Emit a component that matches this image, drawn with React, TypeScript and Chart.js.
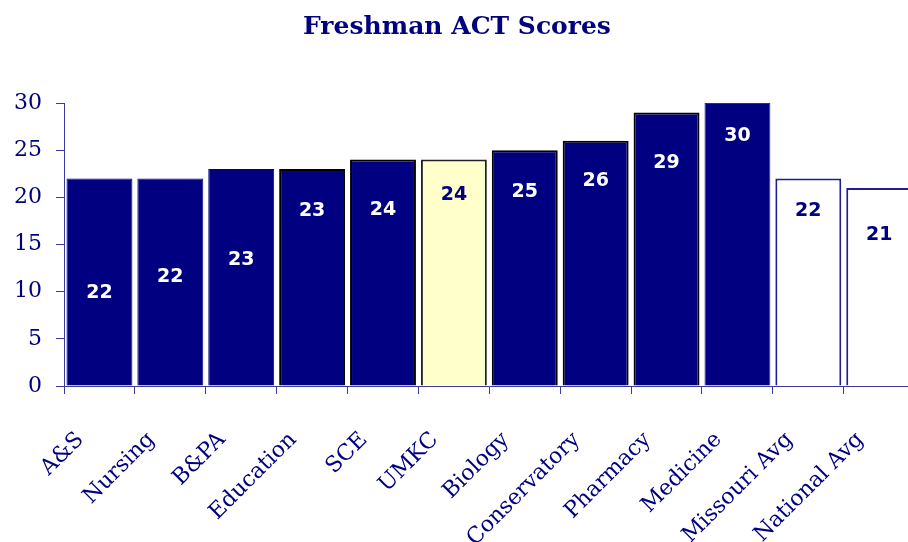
import React, { useEffect, useRef } from "react";
import { Chart, registerables } from "chart.js";

Chart.register(...registerables);

const categories = [
  "A&S", "Nursing", "B&PA", "Education", "SCE", "UMKC",
  "Biology", "Conservatory", "Pharmacy", "Medicine", "Missouri Avg", "National Avg",
];
const scores = [22, 22, 23, 23, 24, 24, 25, 26, 29, 30, 22, 21];
// vertical position (in score units) where each value label sits inside its bar
const labelPositions = [9.8, 11.5, 13.3, 18.5, 18.7, 20.2, 20.6, 21.7, 23.6, 26.5, 18.5, 16.0];
const yTicks = [0, 5, 10, 15, 20, 25, 30];

const NAVY = "#000080";
const fillColors = [NAVY, NAVY, NAVY, NAVY, NAVY, "#FFFFCC", NAVY, NAVY, NAVY, NAVY, "#FFFFFF", "#FFFFFF"];
const borderColors = [NAVY, NAVY, NAVY, "#000000", "#000000", "#222222", "#000000", "#000000", "#000000", "#2a2aa0", "#1c1c9c", "#1c1c9c"];
const borderWidths = [1, 1, 1, 2, 2, 2, 2, 2, 2, 1, 2, 2];
const labelColors = ["#FFFFFF", "#FFFFFF", "#FFFFFF", "#FFFFFF", "#FFFFFF", NAVY, "#FFFFFF", "#FFFFFF", "#FFFFFF", "#FFFFFF", NAVY, NAVY];

const valueLabelPlugin = {
  id: "valueLabels",
  afterDatasetsDraw(chart: any) {
    const meta = chart.getDatasetMeta(0);
    const yScale = chart.scales.y;
    const ctx = chart.ctx;
    ctx.save();
    ctx.font = 'bold 19px "DejaVu Sans", Verdana, sans-serif';
    ctx.textAlign = "center";
    ctx.textBaseline = "middle";
    meta.data.forEach((bar: any, i: number) => {
      ctx.fillStyle = labelColors[i];
      ctx.fillText(String(scores[i]), bar.x, yScale.getPixelForValue(labelPositions[i]));
    });
    ctx.restore();
  },
};

export default function App() {
  const canvasRef = useRef<HTMLCanvasElement | null>(null);

  useEffect(() => {
    if (!canvasRef.current) return;
    const chart = new Chart(canvasRef.current, {
      type: "bar",
      data: {
        labels: categories,
        datasets: [
          {
            data: scores,
            backgroundColor: fillColors,
            borderColor: borderColors,
            borderWidth: borderWidths,
            categoryPercentage: 1,
            barPercentage: 0.93,
          },
        ],
      },
      options: {
        animation: false,
        responsive: false,
        devicePixelRatio: 1,
        layout: { padding: { top: 0, right: 3, bottom: 0, left: 0 } },
        plugins: {
          legend: { display: false },
          tooltip: { enabled: false },
          title: {
            display: true,
            text: "Freshman ACT Scores",
            color: NAVY,
            font: { family: '"DejaVu Serif", serif', size: 25, weight: "bold" },
            padding: { top: 12, bottom: 61 },
          },
        },
        scales: {
          y: {
            min: 0,
            max: 30,
            afterBuildTicks: (scale: any) => {
              scale.ticks = yTicks.map((v) => ({ value: v }));
            },
            afterFit: (scale: any) => {
              scale.width = 78;
            },
            ticks: {
              color: NAVY,
              font: { family: '"DejaVu Serif", serif', size: 22 },
              padding: 14,
            },
            grid: { drawOnChartArea: false, drawTicks: true, tickLength: 8, color: "#3a3a9a" },
            border: { display: true, color: "#3a3a9a", width: 1 },
          },
          x: {
            afterFit: (scale: any) => {
              scale.height = 156;
            },
            ticks: {
              color: NAVY,
              font: { family: '"DejaVu Serif", serif', size: 22 },
              minRotation: 45,
              maxRotation: 45,
              autoSkip: false,
              labelOffset: -19,
              padding: 33,
            },
            grid: { drawOnChartArea: false, drawTicks: true, tickLength: 8, color: "#3a3a9a", offset: true },
            border: { display: true, color: "#3a3a9a", width: 1 },
          },
        },
      },
      plugins: [valueLabelPlugin],
    });
    return () => chart.destroy();
  }, []);

  return (
    <div
      style={{
        position: "fixed",
        top: 0,
        left: 0,
        width: 908,
        height: 542,
        overflow: "hidden",
        background: "#ffffff",
      }}
    >
      <canvas
        ref={canvasRef}
        width={945}
        height={542}
        style={{ display: "block", marginLeft: -14 }}
      />
    </div>
  );
}
